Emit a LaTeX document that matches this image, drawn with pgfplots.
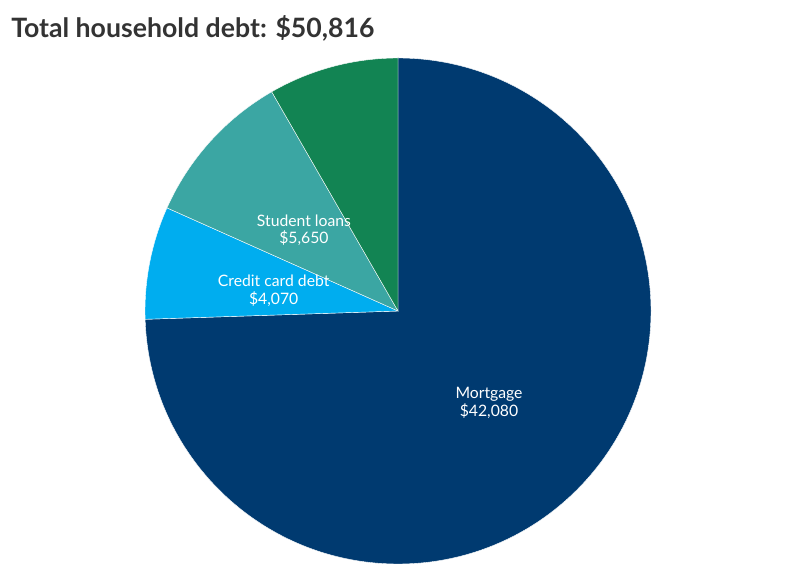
\documentclass[border=0pt]{standalone}
\usepackage{pgfplots}
\usepackage{pgfplotstable}
\pgfplotsset{compat=1.18}
\usepackage{fontspec}
\setmainfont{Lato}

\definecolor{cMort}{HTML}{003A70}
\definecolor{cCred}{HTML}{00ADEF}
\definecolor{cStud}{HTML}{3BA6A3}
\definecolor{cOther}{HTML}{128453}
\definecolor{titlegray}{HTML}{333333}

% slices clockwise from 12 o'clock
\pgfplotstableread{
label              value  color   show
Mortgage           42080  cMort   1
{Credit card debt} 4070   cCred   1
{Student loans}    5650   cStud   1
Other              4700   cOther  0
}\debt

\begin{document}
\begin{tikzpicture}
\begin{axis}[
    scale only axis,
    width=595.5pt, height=431.25pt,
    xmin=0, xmax=794, ymin=0, ymax=575,
    hide axis, clip=false,
]
\path (rel axis cs:0,0) rectangle (rel axis cs:1,1);

\def\total{0}
\pgfplotsforeachungrouped \i in {0,...,3}{%
  \pgfplotstablegetelem{\i}{value}\of\debt
  \edef\total{\fpeval{\total+\pgfplotsretval}}}

\def\cum{0}
\pgfplotsforeachungrouped \i in {0,...,3}{%
  \pgfplotstablegetelem{\i}{value}\of\debt \let\v\pgfplotsretval
  \pgfplotstablegetelem{\i}{color}\of\debt \let\c\pgfplotsretval
  \edef\aS{\fpeval{90-360*\cum/\total}}
  \edef\aE{\fpeval{90-360*(\cum+\v)/\total}}
  \edef\slice{\noexpand\fill[\c, draw=white, line width=0.3pt]
    (axis cs:398,264) -- ++(\aS:189.75pt)
    arc[start angle=\aS, end angle=\aE, radius=189.75pt] -- cycle;}
  \slice
  \edef\cum{\fpeval{\cum+\v}}}

\def\cum{0}
\pgfplotsforeachungrouped \i in {0,...,3}{%
  \pgfplotstablegetelem{\i}{value}\of\debt \let\v\pgfplotsretval
  \pgfplotstablegetelem{\i}{label}\of\debt \let\lab\pgfplotsretval
  \pgfplotstablegetelem{\i}{show}\of\debt \let\sh\pgfplotsretval
  \pgfmathprintnumberto[fixed, precision=0, 1000 sep={,},
    assume math mode=true]{\v}{\numtxt}
  \edef\aM{\fpeval{90-360*(\cum+\v/2)/\total}}
  \ifnum\sh=1
    \edef\lbl{\noexpand\path (axis cs:398,264) ++(\aM:95pt)
      node[text=white, yshift=-3pt,
           font=\noexpand\fontsize{11.8}{13}\noexpand\selectfont,
           align=center] {\lab\noexpand\\\noexpand\$\numtxt};}
    \lbl
  \fi
  \edef\cum{\fpeval{\cum+\v}}}

\node[anchor=base west, text=titlegray, inner sep=0pt,
      font=\fontsize{20}{24}\selectfont\bfseries]
  at (axis cs:11,537) {Total household debt: \$50,816};
\end{axis}
\end{tikzpicture}
\end{document}
